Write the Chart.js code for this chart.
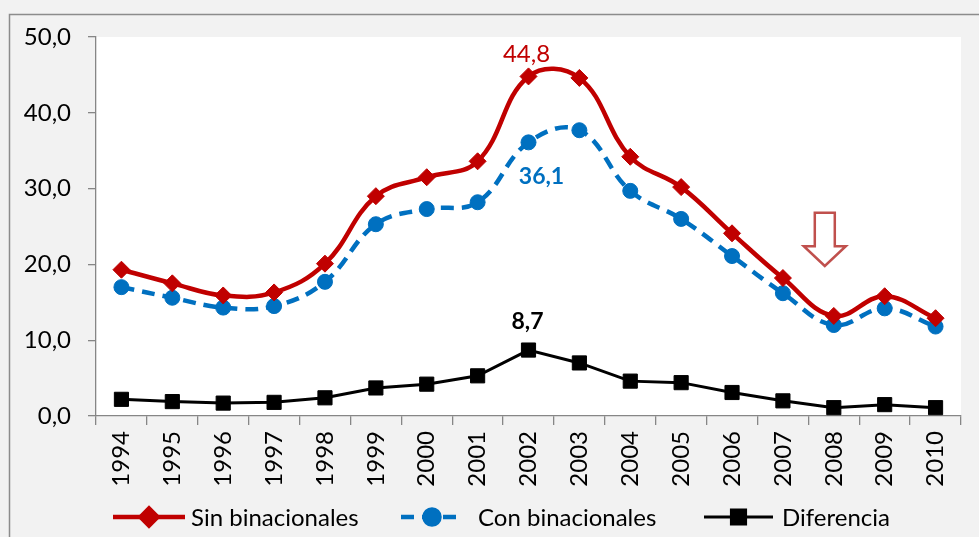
<!DOCTYPE html>
<html>
<head>
<meta charset="utf-8">
<script src="https://cdn.jsdelivr.net/npm/chart.js@4.4.1/dist/chart.umd.min.js"></script>
<style>
  html, body { margin: 0; padding: 0; background: #f2f2f2; }
  #wrap { width: 979px; height: 537px; }
</style>
</head>
<body>
<div id="wrap"><canvas id="chart" width="979" height="537"></canvas></div>
<script>
// data
const years = ["1994", "1995", "1996", "1997", "1998", "1999", "2000", "2001", "2002",
               "2003", "2004", "2005", "2006", "2007", "2008", "2009", "2010"];
const sinBinacionales = [19.3, 17.5, 15.9, 16.3, 20.1, 29.0, 31.5, 33.6, 44.8,
                         44.6, 34.2, 30.2, 24.1, 18.2, 13.2, 15.8, 12.9];
const conBinacionales = [17.0, 15.6, 14.3, 14.5, 17.7, 25.3, 27.3, 28.2, 36.1,
                         37.7, 29.7, 26.0, 21.1, 16.2, 12.0, 14.2, 11.8];
const diferencia = [2.2, 1.9, 1.7, 1.8, 2.4, 3.7, 4.2, 5.3, 8.7,
                    7.0, 4.6, 4.4, 3.1, 2.0, 1.1, 1.5, 1.1];
const seriesNames = ["Sin binacionales", "Con binacionales", "Diferencia"];
const peakYear = "2002";
const arrowYear = "2008";

const FONT = "Lato, 'Open Sans', sans-serif";
const RED = "#c00000", BLUE = "#0070c0", BLACK = "#000000";
const AXIS = "#868686";

function fmt(v) { return v.toFixed(1).replace(".", ","); }

// background, plot area and outer frame
const framePlugin = {
  id: "frame",
  beforeDraw(chart) {
    const { ctx, chartArea: a } = chart;
    ctx.save();
    ctx.fillStyle = "#f2f2f2";
    ctx.fillRect(0, 0, chart.width, chart.height);
    ctx.fillStyle = "#ffffff";
    ctx.fillRect(a.left, a.top, a.right - a.left, a.bottom - a.top);
    ctx.strokeStyle = "#8c8c8c";
    ctx.lineWidth = 1.5;
    ctx.strokeRect(9.5, 14.5, 1100, 700);
    ctx.restore();
  }
};

// value labels at the 2002 peak and the hollow arrow over 2008
const notesPlugin = {
  id: "notes",
  afterDatasetsDraw(chart) {
    const { ctx, scales: { x, y } } = chart;
    const i = years.indexOf(peakYear);
    const pRed = chart.getDatasetMeta(0).data[i];
    const pBlue = chart.getDatasetMeta(1).data[i];
    const pBlack = chart.getDatasetMeta(2).data[i];
    ctx.save();
    ctx.textAlign = "center";
    ctx.textBaseline = "alphabetic";
    ctx.font = "24px " + FONT;
    ctx.fillStyle = RED;
    ctx.fillText(fmt(sinBinacionales[i]), pRed.x - 2, pRed.y - 14);
    ctx.font = "bold 23px " + FONT;
    ctx.fillStyle = BLUE;
    ctx.fillText(fmt(conBinacionales[i]), pBlue.x + 13, pBlue.y + 42);
    ctx.fillStyle = BLACK;
    ctx.fillText(fmt(diferencia[i]), pBlack.x - 1, pBlack.y - 21);

    // arrow
    const cx = x.getPixelForValue(years.indexOf(arrowYear)) - 9;
    const top = y.getPixelForValue(26.8);
    const base = y.getPixelForValue(22.4);
    const tip = y.getPixelForValue(19.8);
    ctx.beginPath();
    ctx.moveTo(cx - 10, top);
    ctx.lineTo(cx + 10, top);
    ctx.lineTo(cx + 10, base);
    ctx.lineTo(cx + 21, base);
    ctx.lineTo(cx, tip);
    ctx.lineTo(cx - 21, base);
    ctx.lineTo(cx - 10, base);
    ctx.closePath();
    ctx.fillStyle = "#ffffff";
    ctx.fill();
    ctx.strokeStyle = "#c0504d";
    ctx.lineWidth = 2.5;
    ctx.stroke();
    ctx.restore();
  }
};

// legend along the bottom: line sample, marker, name
const legendPlugin = {
  id: "bottomLegend",
  afterDraw(chart) {
    const { ctx } = chart;
    const items = [
      { x0: 113, x1: 185, tx: 191 },
      { x0: 401, x1: 463, tx: 478 },
      { x0: 704, x1: 773, tx: 782 }
    ];
    const ly = 517;
    ctx.save();
    chart.data.datasets.forEach((ds, k) => {
      const it = items[k];
      ctx.beginPath();
      ctx.setLineDash(ds.borderDash || []);
      ctx.lineWidth = ds.borderWidth;
      ctx.strokeStyle = ds.borderColor;
      ctx.moveTo(it.x0, ly);
      ctx.lineTo(it.x1, ly);
      ctx.stroke();
      ctx.setLineDash([]);
      ctx.fillStyle = ds.pointBackgroundColor;
      ctx.strokeStyle = ds.pointBorderColor;
      Chart.helpers.drawPoint(ctx, {
        pointStyle: ds.pointStyle, radius: ds.pointRadius, rotation: 0, borderWidth: 1
      }, (it.x0 + it.x1) / 2, ly);
      ctx.fillStyle = "#000";
      ctx.font = "24px " + FONT;
      ctx.textAlign = "left";
      ctx.textBaseline = "middle";
      ctx.fillText(ds.label, it.tx, ly + 1);
    });
    ctx.restore();
  }
};

new Chart(document.getElementById("chart"), {
  type: "line",
  data: {
    labels: years,
    datasets: [
      {
        label: seriesNames[0], data: sinBinacionales,
        borderColor: RED, borderWidth: 4.5, tension: 0.4,
        pointStyle: "rectRot", pointRadius: 8.5,
        pointBackgroundColor: RED, pointBorderColor: RED, pointBorderWidth: 1
      },
      {
        label: seriesNames[1], data: conBinacionales,
        borderColor: BLUE, borderWidth: 4.5, borderDash: [13, 8], tension: 0.4,
        pointStyle: "circle", pointRadius: 7.5,
        pointBackgroundColor: BLUE, pointBorderColor: BLUE, pointBorderWidth: 1
      },
      {
        label: seriesNames[2], data: diferencia,
        borderColor: BLACK, borderWidth: 3, tension: 0,
        pointStyle: "rect", pointRadius: 10,
        pointBackgroundColor: BLACK, pointBorderColor: BLACK, pointBorderWidth: 1
      }
    ]
  },
  options: {
    responsive: false,
    animation: false,
    layout: { padding: { left: 10, top: 37, right: 18, bottom: 41 } },
    plugins: { legend: { display: false }, tooltip: { enabled: false } },
    scales: {
      x: {
        offset: true,
        grid: { offset: true, drawOnChartArea: false, tickLength: 9, color: AXIS, lineWidth: 1.3 },
        border: { color: AXIS, width: 1.3 },
        ticks: { color: "#000", font: { family: FONT, size: 24 }, minRotation: 90, maxRotation: 90, padding: 6 },
        afterFit(s) { s.height = 80; }
      },
      y: {
        min: 0, max: 50,
        grid: { drawOnChartArea: false, tickLength: 8, color: AXIS, lineWidth: 1.3 },
        border: { color: AXIS, width: 1.3 },
        ticks: { stepSize: 10, color: "#000", font: { family: FONT, size: 24 }, padding: 17, callback: v => fmt(v) },
        afterFit(s) { s.width = 86; }
      }
    }
  },
  plugins: [framePlugin, notesPlugin, legendPlugin]
});
</script>
</body>
</html>
